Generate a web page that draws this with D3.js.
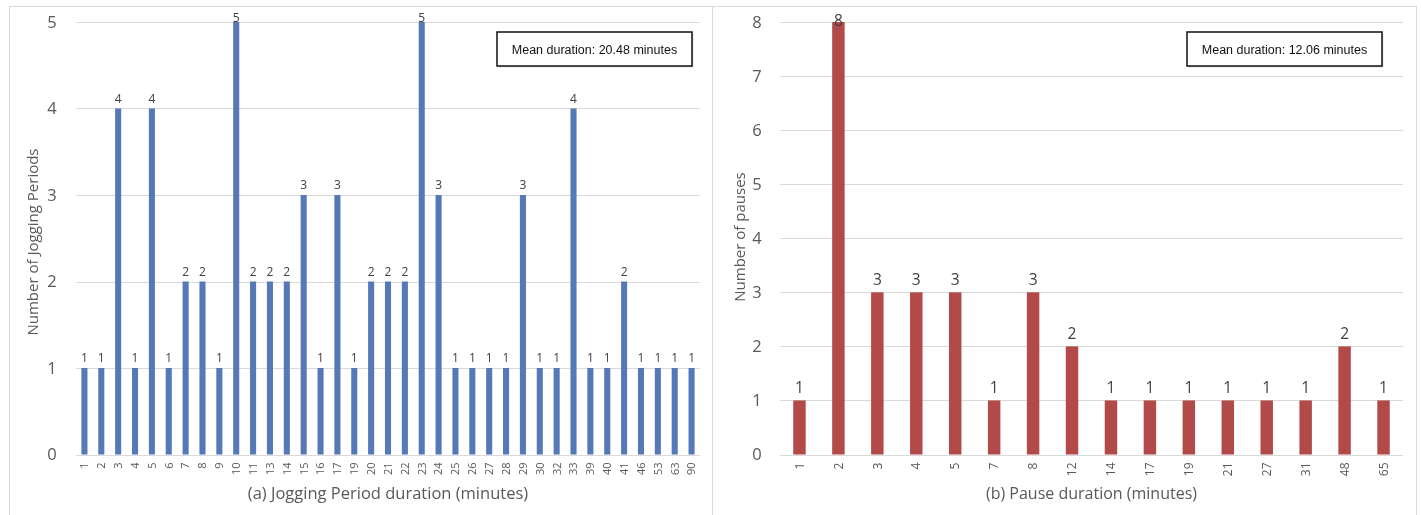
<!DOCTYPE html>
<html>
<head>
<meta charset="utf-8">
<script src="https://cdn.jsdelivr.net/npm/d3@7"></script>
<style>
  html, body { margin: 0; padding: 0; background: #fff; }
  svg { display: block; will-change: transform; }
  text { font-family: "Open Sans", "Noto Sans", sans-serif; }
</style>
</head>
<body>
<svg id="chart" width="1421" height="515"></svg>
<script>
// Jogging period durations (minutes) and how many periods had each duration
const joggingDurations = ["1","2","3","4","5","6","7","8","9","10","11","13","14","15","16","17","19","20","21","22","23","24","25","26","27","28","29","30","32","33","39","40","41","46","53","63","90"];
const joggingCounts    = [1,1,4,1,4,1,2,2,1,5,2,2,2,3,1,3,1,2,2,2,5,3,1,1,1,1,3,1,1,4,1,1,2,1,1,1,1];
const joggingTicks     = [0,1,2,3,4,5];
const joggingMean      = "Mean duration: 20.48 minutes";

// Pause durations (minutes) and how many pauses had each duration
const pauseDurations = ["1","2","3","4","5","7","8","12","14","17","19","21","27","31","48","65"];
const pauseCounts    = [1,8,3,3,3,1,3,2,1,1,1,1,1,1,2,1];
const pauseTicks     = [0,1,2,3,4,5,6,7,8];
const pauseMean      = "Mean duration: 12.06 minutes";

const svg = d3.select("#chart");

// panel frames
svg.append("rect").attr("x", 9.5).attr("y", 6.5).attr("width", 703).attr("height", 510)
  .attr("fill", "none").attr("stroke", "#d9d9d9");
svg.append("rect").attr("x", 712.5).attr("y", 6.5).attr("width", 704).attr("height", 510)
  .attr("fill", "none").attr("stroke", "#d9d9d9");

function drawPanel(cfg) {
  const g = svg.append("g");
  const x = d3.scaleBand().domain(cfg.cats).range([cfg.x0, cfg.x1]).paddingInner(cfg.pad).paddingOuter(cfg.pad / 2);
  const y = d3.scaleLinear().domain([0, d3.max(cfg.ticks)]).range([cfg.yBottom, cfg.yTop]);

  // gridlines
  g.append("g").selectAll("line").data(cfg.ticks).join("line")
    .attr("x1", cfg.x0).attr("x2", cfg.x1)
    .attr("y1", d => Math.round(y(d)) + 0.5).attr("y2", d => Math.round(y(d)) + 0.5)
    .attr("stroke", "#d9d9d9").attr("stroke-width", 1);

  // y axis labels
  const yAxis = d3.axisLeft(y).tickValues(cfg.ticks).tickSize(0).tickPadding(0).tickFormat(d3.format("d"));
  const ya = g.append("g").attr("transform", `translate(${cfg.yLabelX},0)`).call(yAxis);
  ya.select(".domain").remove();
  ya.selectAll("text").attr("font-size", cfg.yTickSize)
    .style("fill", "#595959")
    .attr("font-family", "'Open Sans', sans-serif").attr("text-anchor", "middle");

  // bars
  const bw = x.bandwidth();
  g.append("g").selectAll("rect").data(cfg.cats).join("rect")
    .attr("x", (d) => x(d))
    .attr("y", (d, i) => y(cfg.vals[i]))
    .attr("width", bw)
    .attr("height", (d, i) => y(0) - y(cfg.vals[i]))
    .attr("fill", cfg.color);

  // value labels (kept inside the plot area near the top)
  g.append("g").selectAll("text").data(cfg.cats).join("text")
    .attr("x", d => x(d) + bw / 2)
    .attr("y", (d, i) => Math.max(y(cfg.vals[i]) - cfg.labelGap, cfg.labelMinY))
    .attr("text-anchor", "middle")
    .attr("font-size", cfg.labelSize)
    .style("fill", "#404040")
    .text((d, i) => cfg.vals[i]);

  // x axis category labels (rotated)
  const xAxis = d3.axisBottom(x).tickSize(0).tickPadding(0);
  const xa = g.append("g").attr("transform", `translate(0,${cfg.yBottom})`).call(xAxis);
  xa.select(".domain").remove();
  xa.selectAll("text")
    .attr("font-size", cfg.xTickSize).style("fill", "#595959")
    .attr("font-family", "'Open Sans', sans-serif")
    .attr("text-anchor", "end").attr("dy", "0.35em")
    .attr("transform", "translate(0,8) rotate(-90)")
    .attr("x", 0).attr("y", 0);

  // axis titles
  g.append("text")
    .attr("x", (cfg.x0 + cfg.x1) / 2).attr("y", 499)
    .attr("text-anchor", "middle").attr("font-size", cfg.xTitleSize)
    .style("fill", "#595959")
    .text(cfg.xTitle);
  g.append("text")
    .attr("transform", `translate(${cfg.yTitleX},${cfg.yTitleY}) rotate(-90)`)
    .attr("text-anchor", "middle").attr("font-size", 15)
    .style("fill", "#595959")
    .text(cfg.yTitle);

  // mean annotation box
  const box = g.append("g");
  box.append("rect").attr("x", cfg.boxX + 1.5).attr("y", 33.5).attr("width", 195).attr("height", 34)
    .attr("fill", "#bdbdbd").attr("opacity", 0.5);
  box.append("rect").attr("x", cfg.boxX).attr("y", 32).attr("width", 195).attr("height", 34)
    .attr("fill", "#fff").attr("stroke", "#111").attr("stroke-width", 1.5);
  box.append("text").attr("x", cfg.boxX + 97.5).attr("y", 53.5)
    .attr("text-anchor", "middle").attr("font-size", 12.5)
    .style("font-family", "'Liberation Sans', Arial, sans-serif").style("fill", "#111")
    .text(cfg.mean);
}

drawPanel({
  cats: joggingDurations, vals: joggingCounts, ticks: joggingTicks,
  x0: 76, x1: 700, yTop: 22, yBottom: 454.5, pad: 0.64,
  color: "#5578b6", yLabelX: 52, yTickSize: 16.5, labelSize: 12, labelGap: 6, labelMinY: 22, xTickSize: 11,
  xTitle: "(a) Jogging Period duration (minutes)", xTitleSize: 16.5, yTitle: "Number of Jogging Periods",
  yTitleX: 38, yTitleY: 242, boxX: 497, mean: joggingMean
});

drawPanel({
  cats: pauseDurations, vals: pauseCounts, ticks: pauseTicks,
  x0: 780, x1: 1403, yTop: 22, yBottom: 454.5, pad: 0.68,
  color: "#b24a4a", yLabelX: 757, yTickSize: 16.5, labelSize: 15.5, labelGap: 7, labelMinY: 26, xTickSize: 12,
  xTitle: "(b) Pause duration (minutes)", xTitleSize: 16, yTitle: "Number of pauses",
  yTitleX: 745, yTitleY: 237, boxX: 1187, mean: pauseMean
});
</script>
</body>
</html>
